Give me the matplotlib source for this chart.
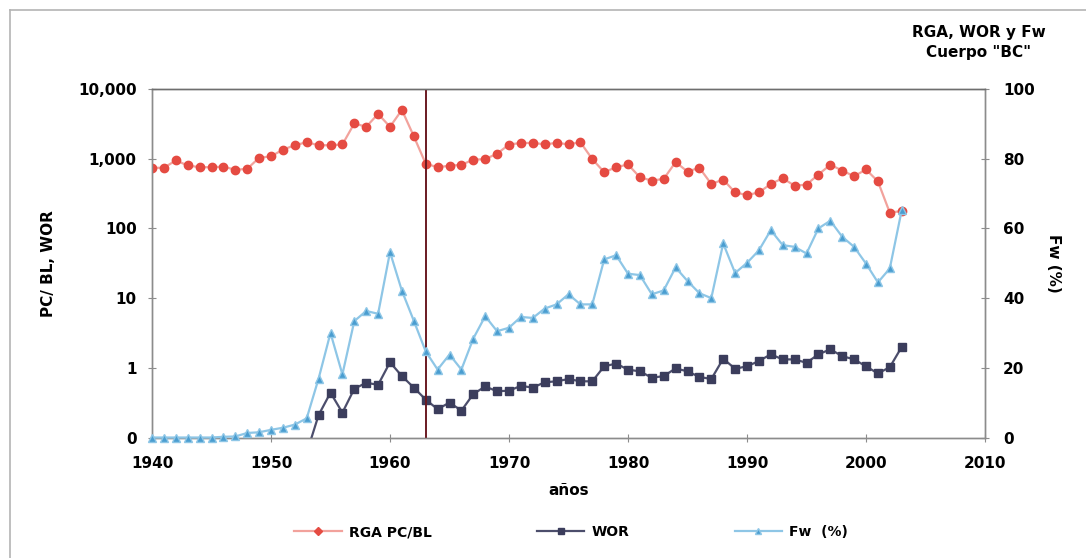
import numpy as np
import matplotlib
matplotlib.use("Agg")
import matplotlib.pyplot as plt
from matplotlib.lines import Line2D

plt.rcParams['font.family'] = ['DejaVu Sans']

# ---- data -------------------------------------------------------------
years = list(range(1940, 2004))

rga = [741, 741, 944, 800, 755, 755, 770, 693, 716, 1030,
       1080, 1349, 1560, 1722, 1560, 1560, 1600, 3210, 2870, 4390,
       2870, 5010, 2100, 847, 755, 792, 818, 968, 987, 1180,
       1596, 1683, 1683, 1611, 1683, 1611, 1720, 987, 640, 755,
       826, 541, 485, 513, 893, 654, 741, 434, 501, 328,
       301, 328, 434, 524, 410, 425, 592, 818, 676, 560,
       700, 473, 168, 178]

wor = [None] * 13 + [0.06,
       0.21, 0.44, 0.227, 0.50, 0.61, 0.57,
       1.2, 0.76, 0.52, 0.35, 0.255, 0.317, 0.243, 0.42, 0.54, 0.46,
       0.47, 0.55, 0.52, 0.62, 0.64, 0.69, 0.64, 0.64, 1.05, 1.15,
       0.94, 0.89, 0.72, 0.76, 0.98, 0.89, 0.74, 0.69, 1.35, 0.97,
       1.05, 1.25, 1.56, 1.32, 1.32, 1.18, 1.56, 1.84, 1.47, 1.32,
       1.05, 0.83, 1.02, 1.99]

fw = [0, 0, 0, 0, 0, 0, 0.2, 0.3, 1.3, 1.5,
      2.2, 2.8, 3.7, 5.5, 16.9, 30.0, 18.1, 33.4, 36.3, 35.5,
      53.2, 42.1, 33.5, 24.7, 19.5, 23.8, 19.5, 28.4, 34.8, 30.5,
      31.5, 34.6, 34.3, 37.0, 38.2, 41.1, 38.2, 38.2, 51.1, 52.3,
      47.0, 46.6, 41.1, 42.2, 48.8, 44.9, 41.4, 40.0, 55.7, 47.2,
      50.1, 53.7, 59.5, 55.2, 54.7, 52.8, 60.0, 62.2, 57.6, 54.7,
      49.9, 44.5, 48.5, 65.2]

event_year = 1963

left_ticks = [0.1, 1, 10, 100, 1000, 10000]
left_labels = ["0", "1", "10", "100", "1,000", "10,000"]
right_ticks = [0, 20, 40, 60, 80, 100]
x_ticks = [1940, 1950, 1960, 1970, 1980, 1990, 2000, 2010]

# ---- styling ----------------------------------------------------------
RED_M, RED_L = "#e54b42", "#f2a29c"
NAVY_M, NAVY_L = "#3b3d5c", "#4c4e6c"
BLUE_M, BLUE_L = "#4a9dd0", "#8ec6e6"
SPINE = "#8c8c8c"
FS = 11

fig = plt.figure(figsize=(10.86, 5.58), dpi=100)
fig.patch.set_facecolor("white")

# outer chart frame (top and left edges visible)
fig.add_artist(Line2D([10 / 1086, 1.0], [1 - 10 / 558] * 2,
                      transform=fig.transFigure, color="#b4b4b4", lw=1.2))
fig.add_artist(Line2D([10 / 1086] * 2, [0.0, 1 - 10 / 558],
                      transform=fig.transFigure, color="#b4b4b4", lw=1.2))

ax = fig.add_axes([152 / 1086, 1 - 437.5 / 558, 833 / 1086, 348.5 / 558])
ax2 = ax.twinx()

x = np.array(years, dtype=float)
rga_a = np.array(rga, dtype=float)
wor_a = np.array([np.nan if v is None else v for v in wor], dtype=float)
fw_a = np.array(fw, dtype=float)

ax.plot(x, rga_a, color=RED_L, lw=1.6, marker="o", ms=6,
        mfc=RED_M, mec=RED_M, zorder=3)
ax.plot(x, wor_a, color=NAVY_L, lw=1.6, marker="s", ms=5.5,
        mfc=NAVY_M, mec=NAVY_M, zorder=3)
ax2.plot(x, fw_a, color=BLUE_L, lw=1.6, marker="^", ms=6,
         mfc=BLUE_M, mec=BLUE_L, zorder=3, clip_on=False)

ax.axvline(event_year, color="#6a1a22", lw=1.4, zorder=5)

ax.set_yscale("log")
ax.set_ylim(0.1, 10000)
ax.set_xlim(1940, 2010)
ax2.set_ylim(0, 100)

ax.set_yticks(left_ticks)
ax.set_yticklabels(left_labels)
ax.yaxis.set_minor_locator(matplotlib.ticker.NullLocator())
ax.set_xticks(x_ticks)
ax2.set_yticks(right_ticks)

for lab in ax.get_xticklabels() + ax.get_yticklabels() + ax2.get_yticklabels():
    lab.set_fontsize(FS)
    lab.set_fontweight("bold")

ax.tick_params(axis="y", direction="inout", length=6, width=0.8,
               colors=SPINE, labelcolor="black", pad=8)
ax.tick_params(axis="x", direction="inout", length=6, width=0.8,
               colors=SPINE, labelcolor="black", pad=10)
ax2.tick_params(axis="y", direction="inout", length=6, width=0.8,
                colors=SPINE, labelcolor="black", pad=10)

for a in (ax, ax2):
    for s in a.spines.values():
        s.set_color(SPINE)
        s.set_linewidth(1.0)
ax.spines["top"].set_color("#6e6e6e")
ax2.spines["top"].set_color("#6e6e6e")

ax.set_ylabel("PC/ BL, WOR", fontsize=FS, fontweight="bold", labelpad=16)
ax2.set_ylabel("Fw (%)", fontsize=FS, fontweight="bold",
               rotation=270, labelpad=19)
ax.set_xlabel("años", fontsize=FS, fontweight="bold", labelpad=9)

fig.text(979 / 1086, 1 - 33 / 558, "RGA, WOR y Fw", ha="center", va="center",
         fontsize=FS, fontweight="bold")
fig.text(979 / 1086, 1 - 52 / 558, "Cuerpo \"BC\"", ha="center", va="center",
         fontsize=FS, fontweight="bold")

handles = [
    Line2D([], [], color=RED_L, lw=1.6, marker="D", ms=4.5, mfc=RED_M, mec=RED_M),
    Line2D([], [], color=NAVY_L, lw=1.6, marker="s", ms=4.5, mfc=NAVY_M, mec=NAVY_M),
    Line2D([], [], color=BLUE_L, lw=1.6, marker="^", ms=4.5, mfc=BLUE_M, mec=BLUE_L),
]
fig.legend(handles, ["RGA PC/BL", "WOR", "Fw  (%)"], ncol=3, frameon=False,
           loc="center", bbox_to_anchor=(571 / 1086, 1 - 532 / 558),
           prop=dict(size=10, weight="bold"), handlelength=3.4,
           handletextpad=0.5, columnspacing=7.6)

fig.savefig("out.png", dpi=100, facecolor="white")
